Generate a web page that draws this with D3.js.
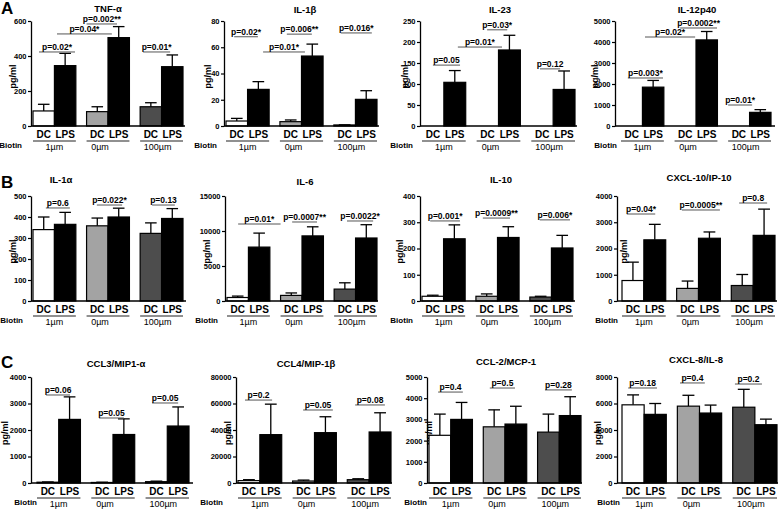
<!DOCTYPE html>
<html><head><meta charset="utf-8">
<script src="https://cdn.jsdelivr.net/npm/d3@7"></script>
<style>
body{margin:0;background:#fff}
svg{display:block}
text{font-family:"Liberation Sans",Arial,sans-serif}
</style>
</head><body>
<svg id="c" width="781" height="509"></svg>
<script>
// ---------------- data ----------------
const panelTitles = ["TNF-α","IL-1β","IL-23","IL-12p40","IL-1α","IL-6","IL-10","CXCL-10/IP-10","CCL3/MIP1-α","CCL4/MIP-1β","CCL-2/MCP-1","CXCL-8/IL-8"];
const panelLetters = ["A","B","C"];
const biotinGroups = ["1µm","0µm","100µm"];
const treatments = ["DC","LPS"];
const yTickValues = [
  [0,200,400,600],[0,20,40,60,80],[0,50,100,150,200,250],[0,1000,2000,3000,4000,5000],
  [0,100,200,300,400,500],[0,5000,10000,15000],[0,100,200,300,400],[0,1000,2000,3000,4000],
  [0,1000,2000,3000,4000],[0,20000,40000,60000,80000],[0,1000,2000,3000,4000,5000],[0,2000,4000,6000,8000]
];
const dcMean = [[86,82,110],[3.8,3.3,0.8],[0,0,0],[0,0,0],[340,358,322],[500,800,1700],[18,18,15],[780,480,590],[30,20,50],[1800,1500,2500],[2250,2650,2400],[5900,5800,5720]];
const dcErrTop = [[124,110,133],[5.8,4.6,0.9],[0,0,0],[0,0,0],[400,395,372],[700,1150,2600],[22,27,18],[1480,760,1010],[40,30,70],[2500,2200,3200],[3250,3450,3250],[6650,6620,7070]];
const lpsMean = [[345,505,339],[27.9,53.3,20.3],[104,181,87],[1850,4100,650],[365,400,393],[7700,9300,9000],[237,242,202],[2330,2390,2500],[2400,1830,2150],[36500,38000,38500],[3000,2780,3180],[5180,5280,4400]];
const lpsErrTop = [[415,568,406],[33.8,62.4,26.9],[132,216,131],[2170,4500,780],[422,442,440],[9700,10600,10900],[290,283,250],[2920,2630,3500],[3250,2420,2870],[59500,50000,53000],[3800,3620,4070],[6000,5880,4820]];
// significance annotations: label, level (data units), span (group index + fraction)
const sigText = [
  ["p=0.02*","p=0.04*","p=0.002**","p=0.01*"],
  ["p=0.02*","p=0.006**","p=0.01*","p=0.016*"],
  ["p=0.05","p=0.01*","p=0.03*","p=0.12"],
  ["p=0.003*","p=0.02*","p=0.0002**","p=0.01*"],
  ["p=0.6","p=0.022*","p=0.13"],
  ["p=0.01*","p=0.0007**","p=0.0022*"],
  ["p=0.001*","p=0.0009**","p=0.006*"],
  ["p=0.04*","p=0.0005**","p=0.8"],
  ["p=0.06","p=0.05","p=0.05"],
  ["p=0.2","p=0.05","p=0.08"],
  ["p=0.4","p=0.5","p=0.28"],
  ["p=0.18","p=0.4","p=0.2"]
];
const sigLevel = [
  [423,526,583,423],[68,70,56.4,70.9],[145,188,229,136],[2286,4238,4667,1000],
  [443,457,457],[11000,11286,11429],[305,316,309],[3314,3467,3733],
  [3321,2453,3019],[62600,55100,58900],[4290,4480,4390],[7170,7550,7470]
];
const sigSpan = [
  [[0.14,0.98],[0.56,1.59],[1.0,1.71],[2.07,2.70]],
  [[0.19,0.74],[1.16,1.74],[0.86,1.58],[2.16,2.88]],
  [[0.25,0.87],[0.82,1.58],[1.24,1.70],[2.20,2.66]],
  [[0.16,0.98],[0.56,1.48],[1.13,1.99],[2.0,2.56]],
  [[0.30,0.86],[1.24,1.83],[2.28,2.81]],
  [[0.26,1.0],[1.27,1.85],[2.30,2.91]],
  [[0.19,0.88],[1.16,1.79],[2.23,2.93]],
  [[0.11,0.76],[1.12,1.99],[2.18,2.82]],
  [[0.21,0.76],[1.18,1.75],[2.15,2.75]],
  [[0.16,0.78],[1.24,1.92],[2.18,2.86]],
  [[0.21,0.78],[1.15,1.73],[2.17,2.79]],
  [[0.14,0.79],[1.06,1.62],[2.05,2.66]]
];

// ---------------- layout ----------------
const rowTop = [21,196,377], rowBottom = [126,301,483];
const letterY = [14,188,368];
const axisX = [31,224,420,615, 31,225,420,617, 31,236,427,617];
const axisEnd = [185,379,577,775, 186,378,575,777, 193,392,582,778];
const barRange = [[33,183],[226,377],[422,575],[621,771],[33,183],[227,377],[422,573],[622,775],[37,189],[238,391],[429,581],[622,777]];
const titleX = [108,305,500,697, 61,305,501,699, 116,306,506,696];
const titleY = [12,13,13,13, 183,185,183,181, 367,367,365,363];
const ylabelDx = [-18,-16,-15,-20, -18,-18,-20,7, -26,-8,2,-19];
const biotinDx = [-9,-7,-7,2, -8,-7,-7,1, 6,-13,0,3];
const dcFill = ["#ffffff","#a3a3a3","#4d4d4d"];
const groupLabelDx = [0,-8,-4];

const svg = d3.select("#c");
svg.append("rect").attr("width",781).attr("height",509).attr("fill","#fff");

panelLetters.forEach((L,i)=>{
  svg.append("text").attr("x",1).attr("y",letterY[i]).attr("font-size",17).attr("font-weight","bold").text(L);
});

panelTitles.forEach((title,p)=>{
  const row = Math.floor(p/4);
  const g = svg.append("g");
  const y = d3.scaleLinear().domain([0,d3.max(yTickValues[p])]).range([rowBottom[row],rowTop[row]]);
  const xg = d3.scaleBand().domain(biotinGroups).range(barRange[p]).paddingInner(0.2).paddingOuter(0);
  const xi = d3.scaleBand().domain(treatments).range([0,xg.bandwidth()]);
  const bw = xi.bandwidth();
  const y0 = y(0);

  // title
  g.append("text").attr("x",titleX[p]).attr("y",titleY[p]).attr("text-anchor","middle")
    .attr("font-size",9.5).attr("font-weight","bold").text(title);

  // y axis
  const ax = g.append("g").attr("transform",`translate(${axisX[p]},0)`)
    .call(d3.axisLeft(y).tickValues(yTickValues[p]).tickSize(3).tickSizeOuter(0).tickPadding(1.5).tickFormat(d3.format("d")));
  ax.select(".domain").attr("stroke","#000").attr("stroke-width",1.3);
  ax.selectAll(".tick line").attr("stroke","#000").attr("stroke-width",1.2);
  ax.selectAll(".tick text").attr("font-size",7.5).attr("font-weight","bold").attr("fill","#000")
    .attr("font-family","'Liberation Sans',Arial,sans-serif");

  // y label
  g.append("text").attr("transform",`translate(${axisX[p]+ylabelDx[p]},${(rowTop[row]+rowBottom[row])/2+3}) rotate(-90)`)
    .attr("text-anchor","middle").attr("dy","0.35em").attr("font-size",9).attr("font-weight","bold").text("pg/ml");

  // bars
  biotinGroups.forEach((bg,gi)=>{
    const gx = xg(bg);
    const vals = [[dcMean[p][gi],dcErrTop[p][gi],dcFill[gi]],[lpsMean[p][gi],lpsErrTop[p][gi],"#000"]];
    treatments.forEach((t,ti)=>{
      const [m,e,fill] = vals[ti];
      const bx = gx + xi(t);
      const cx = bx + bw/2;
      if (e > m) {
        g.append("line").attr("x1",cx).attr("x2",cx).attr("y1",y(m)).attr("y2",y(e)).attr("stroke","#000").attr("stroke-width",1.3);
        g.append("line").attr("x1",cx-bw*0.27).attr("x2",cx+bw*0.27).attr("y1",y(e)).attr("y2",y(e)).attr("stroke","#000").attr("stroke-width",1.3);
      }
      if (m > 0) {
        g.append("rect").attr("x",bx).attr("y",y(m)).attr("width",bw).attr("height",y0-y(m))
          .attr("fill",fill).attr("stroke","#000").attr("stroke-width",1.2);
      }
      g.append("text").attr("x",cx).attr("y",y0+12).attr("text-anchor","middle")
        .attr("font-size",10).attr("font-weight","bold").text(t);
    });
    g.append("line").attr("x1",gx).attr("x2",gx+xg.bandwidth()).attr("y1",y0+15).attr("y2",y0+15)
      .attr("stroke","#222").attr("stroke-width",1.1);
    g.append("text").attr("x",gx+xg.bandwidth()/2+groupLabelDx[gi]).attr("y",y0+23.5).attr("text-anchor","middle")
      .attr("font-size",9).text(bg);
  });

  // x axis line
  g.append("line").attr("x1",axisX[p]).attr("x2",axisEnd[p]).attr("y1",y0).attr("y2",y0)
    .attr("stroke","#000").attr("stroke-width",1.4);

  // biotin label
  g.append("text").attr("x",axisX[p]+biotinDx[p]).attr("y",y0+22).attr("text-anchor","end")
    .attr("font-size",8).attr("font-weight","bold").text("Biotin");

  // significance
  const fx = s => { const gi = Math.min(Math.floor(s),2); return xg(biotinGroups[gi]) + (s-gi)*xg.bandwidth(); };
  sigText[p].forEach((txt,k)=>{
    const [s1,s2] = sigSpan[p][k];
    const ly = y(sigLevel[p][k]);
    g.append("line").attr("x1",fx(s1)).attr("x2",fx(s2)).attr("y1",ly).attr("y2",ly)
      .attr("stroke","#555").attr("stroke-width",1);
    g.append("text").attr("x",(fx(s1)+fx(s2))/2).attr("y",ly-2).attr("text-anchor","middle")
      .attr("font-size",8.5).attr("font-weight","bold").text(txt);
  });
});
</script>
</body></html>
